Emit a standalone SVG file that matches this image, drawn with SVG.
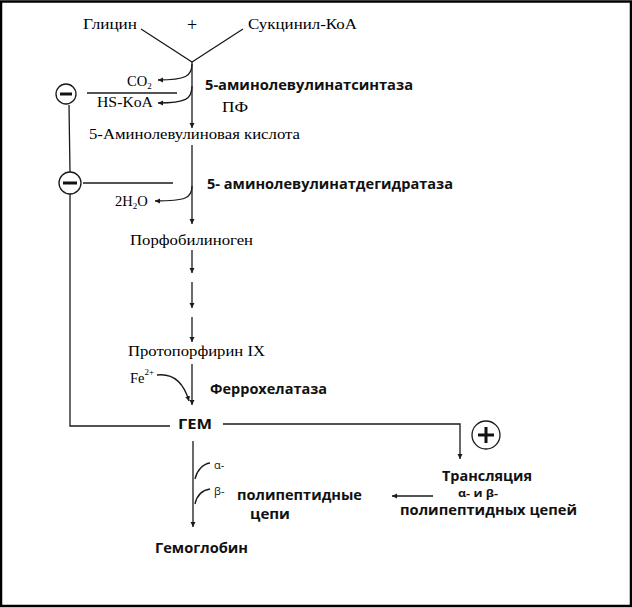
<svg xmlns="http://www.w3.org/2000/svg" width="632" height="608" viewBox="0 0 632 608">
<style>
.ser{font-family:"Liberation Serif","Times New Roman",serif;font-size:14.5px;fill:#000}
.bold{font-family:"Open Sans","DejaVu Sans",sans-serif;font-weight:bold;font-size:15px;fill:#111}
.sm{font-family:"Open Sans","DejaVu Sans",sans-serif;font-size:11px;fill:#111}
.ln{fill:none;stroke:#1a1a1a;stroke-width:1.3}
.circ{fill:#fff;stroke:#1a1a1a;stroke-width:1.3}
.sign{stroke:#111;stroke-width:3;fill:none}
</style>
<defs>
<marker id="ah" markerWidth="6" markerHeight="6" refX="5" refY="3" orient="auto" markerUnits="userSpaceOnUse">
<path d="M0,0.5 L5,3 L0,5.5 Z" fill="#1a1a1a"/>
</marker>
</defs>
<rect x="1" y="1.5" width="630" height="604.5" fill="#fff" stroke="#000" stroke-width="2.5"/>

<g id="connectors">
<path class="ln" d="M141,29 L192,62 L243,29"/>
<path class="ln" d="M192,62 L192,128" marker-end="url(#ah)"/>
<path class="ln" d="M192,64 C192,76 186,80 158,80" marker-end="url(#ah)"/>
<path class="ln" d="M192,86 C192,99 186,103 158,103" marker-end="url(#ah)"/>
<path class="ln" d="M192,145 L192,224" marker-end="url(#ah)"/>
<path class="ln" d="M192,186 C192,198 186,201 155,201" marker-end="url(#ah)"/>
<path class="ln" d="M192,250 L192,273" marker-end="url(#ah)"/>
<path class="ln" d="M192,282 L192,308" marker-end="url(#ah)"/>
<path class="ln" d="M192,317 L192,342" marker-end="url(#ah)"/>
<path class="ln" d="M192,364 L192,405" marker-end="url(#ah)"/>
<path class="ln" d="M157,375 C174,373 184,384 189,401" marker-end="url(#ah)"/>
<path class="ln" d="M193,441 L193,527" marker-end="url(#ah)"/>
<path class="ln" d="M195,479 C197,470 203,464 210,463"/>
<path class="ln" d="M195,504 C197,495 203,490 210,489"/>
<path class="ln" d="M87,93 L177,93"/>
<path class="ln" d="M83,183 L173,183"/>
<path class="ln" d="M69,105 L70,172"/>
<path class="ln" d="M70,194 L70,426 L170,426"/>
<path class="ln" d="M223,424 L460,424 L460,459" marker-end="url(#ah)"/>
<path class="ln" d="M433,496 L392,496" marker-end="url(#ah)"/>
</g>

<g id="inhib1">
<circle class="circ" cx="66" cy="94" r="10"/>
<path class="sign" d="M60,94 L72,94"/>
</g>
<g id="inhib2">
<circle class="circ" cx="70" cy="183" r="11"/>
<path class="sign" d="M63,183 L77,183"/>
</g>
<g id="activ">
<circle class="circ" cx="486" cy="435" r="14"/>
<path class="sign" d="M478,435 L494,435 M486,427 L486,443"/>
</g>

<g id="glycine"><text class="ser" x="83" y="29" textLength="54" lengthAdjust="spacingAndGlyphs">Глицин</text></g>
<g id="plus"><text class="ser" x="192" y="31" style="font-size:18px" text-anchor="middle">+</text></g>
<g id="succinyl"><text class="ser" x="248" y="29" textLength="109" lengthAdjust="spacingAndGlyphs">Сукцинил-КоА</text></g>
<g id="co2"><text class="ser" x="127" y="86">CO<tspan style="font-size:9px" dy="3">2</tspan></text></g>
<g id="hskoa"><text class="ser" x="97" y="107" textLength="56" lengthAdjust="spacingAndGlyphs">HS-KoA</text></g>
<g id="ala"><text class="ser" x="89" y="139" textLength="211" lengthAdjust="spacingAndGlyphs">5-Аминолевулиновая кислота</text></g>
<g id="h2o"><text class="ser" x="115" y="206">2H<tspan style="font-size:9px" dy="3">2</tspan><tspan dy="-3">O</tspan></text></g>
<g id="pbg"><text class="ser" x="130" y="245" textLength="123" lengthAdjust="spacingAndGlyphs">Порфобилиноген</text></g>
<g id="proto"><text class="ser" x="128" y="356" textLength="137" lengthAdjust="spacingAndGlyphs">Протопорфирин IX</text></g>
<g id="fe"><text class="ser" x="130" y="383">Fe<tspan style="font-size:9px" dy="-8">2+</tspan></text></g>

<g id="enz1"><text class="bold" x="205" y="90" textLength="208" lengthAdjust="spacingAndGlyphs">5-аминолевулинатсинтаза</text></g>
<g id="pf"><text class="ser" x="222" y="112" style="font-size:15.5px" textLength="26" lengthAdjust="spacingAndGlyphs">ПФ</text></g>
<g id="enz2"><text class="bold" x="207" y="189" textLength="246" lengthAdjust="spacingAndGlyphs">5- аминолевулинатдегидратаза</text></g>
<g id="enz3"><text class="bold" x="210" y="394" textLength="117" lengthAdjust="spacingAndGlyphs">Феррохелатаза</text></g>
<g id="heme"><text class="bold" x="178" y="429" textLength="34" lengthAdjust="spacingAndGlyphs">ГЕМ</text></g>
<g id="alpha"><text class="sm" x="214" y="469">α-</text></g>
<g id="beta"><text class="sm" x="214" y="495">β-</text></g>
<g id="chains"><text class="bold" x="237" y="500" style="font-size:14.5px" textLength="125" lengthAdjust="spacingAndGlyphs">полипептидные</text><text class="bold" x="250" y="519" style="font-size:14.5px" textLength="40" lengthAdjust="spacingAndGlyphs">цепи</text></g>
<g id="hb"><text class="bold" x="155" y="553" textLength="93" lengthAdjust="spacingAndGlyphs">Гемоглобин</text></g>
<g id="transl"><text class="bold" x="442" y="481" textLength="90" lengthAdjust="spacingAndGlyphs">Трансляция</text><text class="sm" x="458" y="497" style="font-weight:bold" textLength="40" lengthAdjust="spacingAndGlyphs">α- и β-</text><text class="bold" x="400" y="515" textLength="177" lengthAdjust="spacingAndGlyphs">полипептидных цепей</text></g>
</svg>
